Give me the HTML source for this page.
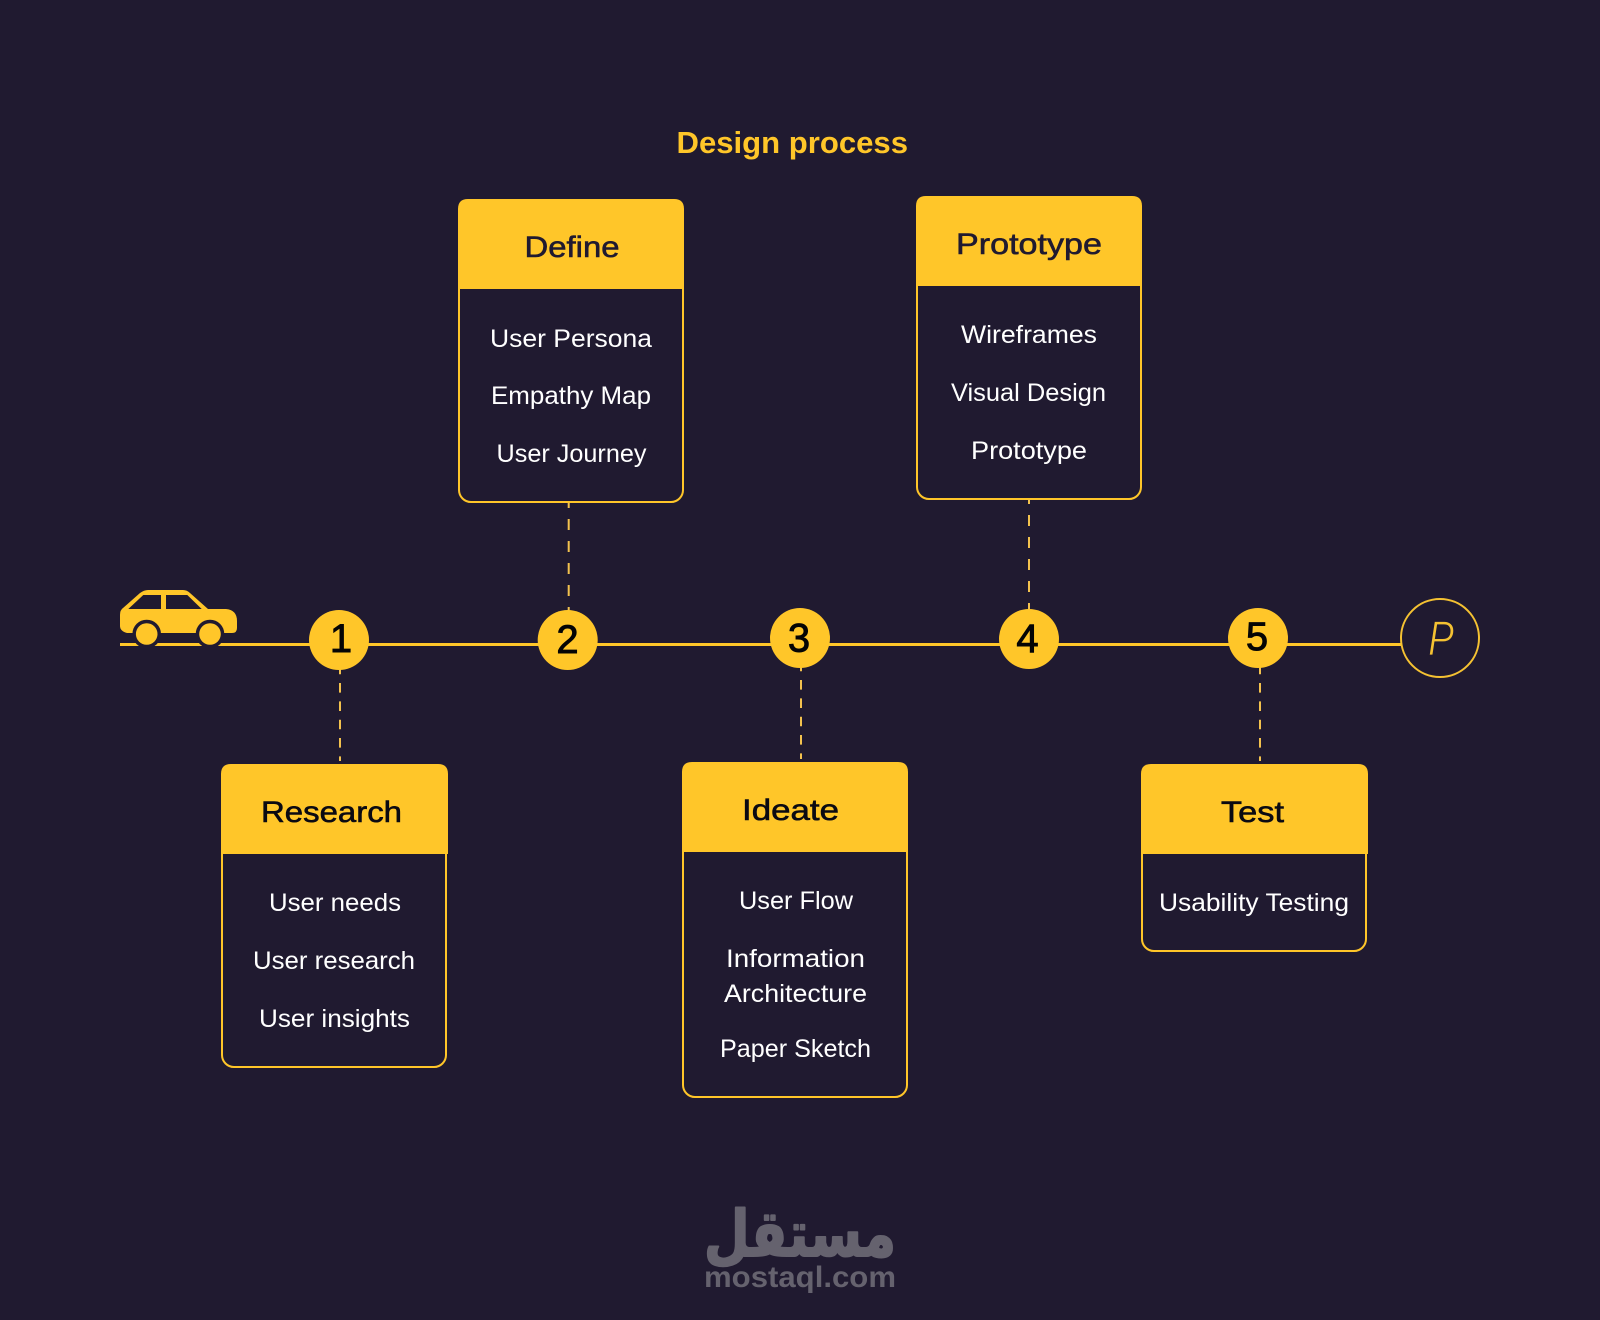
<!DOCTYPE html>
<html><head><meta charset="utf-8"><style>
html,body{margin:0;padding:0;background:#201a30}
svg{display:block}
text{font-family:"Liberation Sans",sans-serif}
.b{font-size:25px;fill:#fff}
.h{font-size:30px;fill:#201a30;stroke:#201a30;stroke-width:.6px}
.k{fill:#0b0a12;stroke:#0b0a12}
.n{font-size:40px;fill:#050505;stroke:#050505;stroke-width:.9px;text-anchor:middle}
</style></head><body>
<svg width="1600" height="1320" viewBox="0 0 1600 1320" xmlns="http://www.w3.org/2000/svg">
<rect width="1600" height="1320" fill="#201a30"/>
<text x="676.5" y="153" font-size="31" font-weight="700" fill="#ffc629" textLength="231.5" lengthAdjust="spacingAndGlyphs">Design process</text>
<g stroke="#f3c24e" stroke-width="2" fill="none">
<g stroke-dasharray="9.6 8.73">
<line x1="340" y1="664.7" x2="340" y2="761"/>
<line x1="1260" y1="664.7" x2="1260" y2="761"/>
<line x1="801" y1="661.7" x2="801" y2="759"/>
</g>
<g stroke-dasharray="11 11">
<line x1="568.7" y1="502" x2="568.7" y2="611" stroke-dashoffset="5"/>
<line x1="1029" y1="499" x2="1029" y2="610" stroke-dashoffset="6"/>
</g>
</g>
<line x1="120" y1="644.5" x2="1402" y2="644.5" stroke="#ffc629" stroke-width="3"/>
<path fill="#ffc629" d="M120 615 Q120 610 123 608 L140 593 Q144 590 148 590 L183 590 Q187 590 190 593 L208 609 L226 609 Q237 610 237 621 L237 628 Q237 633 232 633 L127 633 Q120 631 120 626Z"/>
<g fill="#201a30">
<path d="M128.300 609 L143.300 595 L161 595 L161 609Z"/>
<path d="M166 595 L187.300 595 L201.700 609 L166 609Z"/>
<circle cx="146.700" cy="634" r="14.300"/><circle cx="210" cy="634" r="14.300"/>
<rect x="120" y="633.300" width="120" height="9.400"/>
</g>
<circle cx="146.700" cy="634" r="10.800" fill="#ffc629"/><circle cx="210" cy="634" r="10.800" fill="#ffc629"/>
<circle cx="339" cy="640" r="30" fill="#ffc629"/>
<circle cx="567.700" cy="640" r="30" fill="#ffc629"/>
<circle cx="800" cy="638" r="30" fill="#ffc629"/>
<circle cx="1029" cy="639" r="30" fill="#ffc629"/>
<circle cx="1258" cy="638" r="30" fill="#ffc629"/>
<text class="n" x="341" y="652">1</text>
<text class="n" x="567.500" y="653">2</text>
<text class="n" x="799" y="651.500">3</text>
<text class="n" x="1027.500" y="652">4</text>
<text class="n" x="1257" y="650">5</text>
<circle cx="1440" cy="638" r="39" fill="#201a30" stroke="#f5c232" stroke-width="2"/>
<text x="1428" y="655" font-size="49" font-style="italic" fill="#f5c232" stroke="#201a30" stroke-width="1.2" textLength="26" lengthAdjust="spacingAndGlyphs">P</text>

<!-- Define -->
<rect x="459" y="200" width="224" height="302" rx="12" fill="none" stroke="#ffc629" stroke-width="2"/>
<path fill="#ffc629" d="M458 289 V209 Q458 199 468 199 H674 Q684 199 684 209 V289Z"/>
<text class="h" x="524.500" y="257" textLength="95" lengthAdjust="spacingAndGlyphs">Define</text>
<text class="b" x="490" y="347" textLength="162" lengthAdjust="spacingAndGlyphs">User Persona</text>
<text class="b" x="491" y="404" textLength="160" lengthAdjust="spacingAndGlyphs">Empathy Map</text>
<text class="b" x="496.500" y="462" textLength="150" lengthAdjust="spacingAndGlyphs">User Journey</text>

<!-- Prototype -->
<rect x="917" y="197" width="224" height="302" rx="12" fill="none" stroke="#ffc629" stroke-width="2"/>
<path fill="#ffc629" d="M916 286 V206 Q916 196 926 196 H1132 Q1142 196 1142 206 V286Z"/>
<text class="h" x="956" y="254" textLength="146" lengthAdjust="spacingAndGlyphs">Prototype</text>
<text class="b" x="961" y="343" textLength="136" lengthAdjust="spacingAndGlyphs">Wireframes</text>
<text class="b" x="951" y="401" textLength="155" lengthAdjust="spacingAndGlyphs">Visual Design</text>
<text class="b" x="971" y="459" textLength="116" lengthAdjust="spacingAndGlyphs">Prototype</text>

<!-- Research -->
<rect x="222" y="765" width="224" height="302" rx="12" fill="none" stroke="#ffc629" stroke-width="2"/>
<path fill="#ffc629" d="M221 854 V774 Q221 764 231 764 H438 Q448 764 448 774 V854Z"/>
<text class="h k" x="261" y="822" textLength="141" lengthAdjust="spacingAndGlyphs">Research</text>
<text class="b" x="269" y="911" textLength="132" lengthAdjust="spacingAndGlyphs">User needs</text>
<text class="b" x="253" y="969" textLength="162" lengthAdjust="spacingAndGlyphs">User research</text>
<text class="b" x="259" y="1027" textLength="151" lengthAdjust="spacingAndGlyphs">User insights</text>

<!-- Ideate -->
<rect x="683" y="763" width="224" height="334" rx="12" fill="none" stroke="#ffc629" stroke-width="2"/>
<path fill="#ffc629" d="M682 852 V772 Q682 762 692 762 H898 Q908 762 908 772 V852Z"/>
<text class="h k" x="742" y="820" textLength="97" lengthAdjust="spacingAndGlyphs">Ideate</text>
<text class="b" x="739" y="909" textLength="114" lengthAdjust="spacingAndGlyphs">User Flow</text>
<text class="b" x="726" y="967" textLength="139" lengthAdjust="spacingAndGlyphs">Information</text>
<text class="b" x="724" y="1002" textLength="143" lengthAdjust="spacingAndGlyphs">Architecture</text>
<text class="b" x="720" y="1057" textLength="151" lengthAdjust="spacingAndGlyphs">Paper Sketch</text>

<!-- Test -->
<rect x="1142" y="765" width="224" height="186" rx="12" fill="none" stroke="#ffc629" stroke-width="2"/>
<path fill="#ffc629" d="M1141 854 V774 Q1141 764 1151 764 H1358 Q1368 764 1368 774 V854Z"/>
<text class="h k" x="1221" y="822" textLength="63" lengthAdjust="spacingAndGlyphs">Test</text>
<text class="b" x="1159" y="911" textLength="190" lengthAdjust="spacingAndGlyphs">Usability Testing</text>

<!-- Watermark -->
<text x="704" y="1256" font-size="64" font-weight="700" fill="#65626e" stroke="#65626e" stroke-width="2" stroke-linejoin="round" style="font-family:'DejaVu Sans',sans-serif" textLength="192" lengthAdjust="spacingAndGlyphs">مستقل</text>
<text x="704" y="1287" font-size="30" font-weight="700" fill="#65626e" textLength="192" lengthAdjust="spacingAndGlyphs">mostaql.com</text>
</svg>
</body></html>
